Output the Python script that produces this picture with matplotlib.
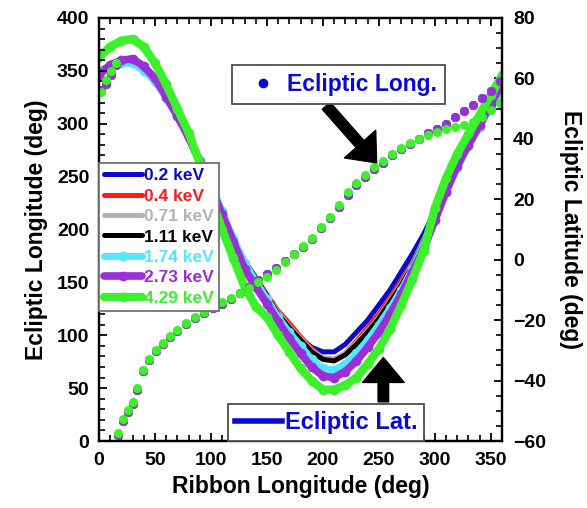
import numpy as np, matplotlib; matplotlib.use("Agg")
import matplotlib.pyplot as plt
from matplotlib.lines import Line2D
from matplotlib.ticker import MultipleLocator
plt.rcParams.update({"font.family":["Liberation Sans","DejaVu Sans"],"font.weight":"bold",
 "axes.labelweight":"bold","axes.linewidth":1.6,"figure.facecolor":"white"})

# ribbon longitude grid for the latitude curves (deg)
rib = [0,10,20,30,40,50,60,70,80,90,100,110,120,130,140,150,160,170,180,190,200,
       210,220,230,240,250,260,270,280,290,300,310,320,330,340,350,360]
lat_02  = [62.5,64.5,65.5,65.5,63,59,53.5,47.5,40.5,33,25,16,7,-0.5,-6,-12,-17.5,-22,-26,-29,-30.5,
           -30.5,-28,-24,-20,-15,-10,-4,2,8.5,16,24,31.5,38.5,45,51.5,57.5]
lat_04  = [62,64,65,65,62.5,59,53.5,47.5,40.5,33,25,16,7,-0.5,-6,-11.5,-17,-21,-25.5,-29.5,-32.5,
           -33,-31,-27,-22.5,-18,-12.5,-7,-1,6.5,15,23.5,31.5,38,44.5,51,57]
lat_071 = [62,64,65,65,62.5,59,53.5,47.5,40.5,33,25,16,7,-0.5,-6,-12,-17.5,-22,-26,-30,-32.5,
           -33,-31,-27.5,-23.5,-19,-13.5,-8,-1.5,6.5,14.5,23,31,38,44.5,51,57]
lat_111 = [62,64,65,65,62.5,59,53.5,47.5,40.5,33,25,16,7,-0.5,-6,-12,-18,-22.5,-26.5,-30.5,-33,
           -33.5,-31.5,-28,-24,-19.5,-14,-8.5,-2,6,14,23,31,38,44.5,51,57]
lat_174 = [62,64,65,65,62.5,59,53.5,47.5,40.5,33,25,16,7,-1,-7,-13,-19,-24,-28.5,-33,-36,
           -36.5,-34.5,-31,-26.5,-21.5,-16,-10,-3,5,13.5,22.5,30.5,37.5,44,50.5,56.5]
lat_273 = [61,64.5,66,66.5,64,60,54,47.5,40.5,32.5,24,15,6,-3,-9,-14.5,-20.5,-26,-31,-35.5,-38.5,
           -39,-37,-33.5,-29,-24,-18,-11.5,-4,3.5,13,22.5,31,38,44.5,51.5,58.5]
lat_429 = [67,70.5,72.5,73,70.5,65,58,50,42,32,21,10,0.5,-9,-15.5,-19,-25,-30.5,-36,-40,-43,
           -43,-41.5,-39,-34.5,-29.5,-23,-15,-6.5,3,17,27,35,41.5,48,54.5,61]

# ecliptic longitude points (deg)
lon_x = [2,6,11,15,17,21,26,30,34,39,45,51,57,63,70,78,86,94,102,110,118,126,134,142,150,
         158,166,174,182,190,198,206,214,222,230,238,246,254,262,270,278,286,294,302,310,
         318,326,334,342,350,358]
lon_all = [332,338,346,356,6,19,27,35,48,66,77,85,92,98,104,111,116,121,126,130,134,140,146,152,158,
           164,170,177,183,191,201,211,221,233,242,250,257,263,270,276,281,286,291,295,300,
           306,312,318,324,331,340]
lon_429 = [330,341,350,357,8,21,29,37,50,67,78,86,93,99,105,112,117,122,127,131,135,140,145,150,155,
           162,169,177,184,192,202,212,223,235,244,252,259,265,271,277,282,286,289,292,295,
           297,299,302,306,313,320]

energies = ["0.2 keV","0.4 keV","0.71 keV","1.11 keV","1.74 keV","2.73 keV","4.29 keV"]
lats = [lat_02,lat_04,lat_071,lat_111,lat_174,lat_273,lat_429]
lons = [lon_all,lon_all,lon_all,lon_all,lon_all,lon_all,lon_429]
colors = ["#0a0acc","#ff1a1a","#b4b4b4","#000000","#55e6ff","#9a2fd8","#3cf02a"]
lws = [3.6,3.6,3.6,3.6,5,5.5,6]
mks = [None,None,None,None,"o","o","o"]

fig = plt.figure(figsize=(5.87,5.08),dpi=100)
ax = fig.add_axes([99/587,67/508,403/587,423/508])
ax2 = ax.twinx()
ax.yaxis.tick_right(); ax.yaxis.set_label_position("right")
ax2.yaxis.tick_left(); ax2.yaxis.set_label_position("left")

hs = []
for la,c,lw,mk in zip(lats,colors,lws,mks):
    h, = ax.plot(rib,la,color=c,lw=lw,marker=mk,ms=6,solid_capstyle="round")
    hs.append(h)
for lo,c in zip(lons,colors):
    ax2.plot(lon_x,lo,"o",color=c,ms=6.5,mec="none")

ax.set_xlim(0,360); ax.set_ylim(-60,80); ax2.set_ylim(0,400)
ax.xaxis.set_major_locator(MultipleLocator(50)); ax.xaxis.set_minor_locator(MultipleLocator(10))
ax.yaxis.set_major_locator(MultipleLocator(20)); ax.yaxis.set_minor_locator(MultipleLocator(5))
ax2.yaxis.set_major_locator(MultipleLocator(50)); ax2.yaxis.set_minor_locator(MultipleLocator(10))
ax.tick_params(axis="x",which="both",direction="in",top=True,bottom=True,labelsize=14,pad=8)
ax.tick_params(axis="y",which="both",direction="in",left=False,right=True,labelsize=14,pad=8)
ax2.tick_params(axis="y",which="both",direction="in",left=True,right=False,labelsize=14,pad=7)
for a in (ax,ax2):
    a.tick_params(which="major",length=6,width=1.3)
    a.tick_params(which="minor",length=4,width=1.2)

ax.set_xlabel("Ribbon Longitude (deg)",fontsize=16.5,labelpad=4)
ax2.set_ylabel("Ecliptic Longitude (deg)",fontsize=16.5,labelpad=6)
ax.set_ylabel("Ecliptic Latitude (deg)",fontsize=16.5,rotation=270,labelpad=26)

leg = ax2.legend(hs,energies,loc="upper left",bbox_to_anchor=(0,0.657),borderaxespad=0,
                 fontsize=12.5,labelcolor="linecolor",handlelength=2.2,handletextpad=0.1,
                 labelspacing=0.3,borderpad=0.3,fancybox=False,edgecolor="0.45",framealpha=1)
leg.get_frame().set_linewidth(1.3)

blue = "#0a0ad6"
lg2 = fig.legend([Line2D([],[],marker="o",ls="none",color=blue,ms=6)],["Ecliptic Long."],
                 loc="upper left",bbox_to_anchor=(232/587,1-65/508),borderaxespad=0,fontsize=16.5,
                 labelcolor=blue,handlelength=2,handletextpad=0.05,borderpad=0.35,
                 fancybox=False,edgecolor="0.3",framealpha=1)
lg2.get_frame().set_linewidth(1.3)
lg3 = fig.legend([Line2D([],[],color=blue,lw=4)],["Ecliptic Lat."],
                 loc="lower left",bbox_to_anchor=(228/587,1-441/508),borderaxespad=0,fontsize=17,
                 labelcolor=blue,handlelength=2,handletextpad=0.1,borderpad=0.3,
                 fancybox=False,edgecolor="0.3",framealpha=1)
lg3.get_frame().set_linewidth(1.3)

ap = dict(arrowstyle="simple,head_width=1.5,head_length=0.9,tail_width=0.38",color="black",
          mutation_scale=20,shrinkA=0,shrinkB=0)
ax2.annotate("",xy=(248,263),xytext=(203,317),arrowprops=ap)
ax2.annotate("",xy=(254,79),xytext=(254,37),arrowprops=ap)

fig.savefig("out.png",dpi=100)
